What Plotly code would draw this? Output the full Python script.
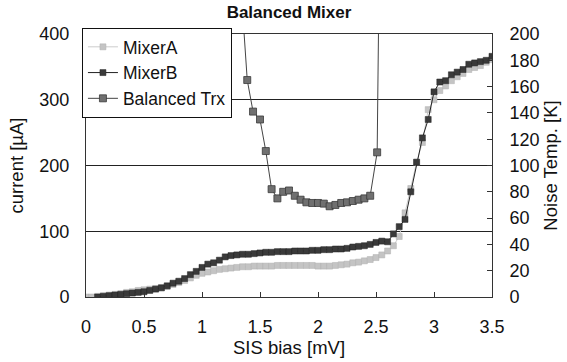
import plotly.graph_objects as go

# SIS bias voltage [mV] for the two single-mixer I-V curves
bias_a = [0.00, 0.05, 0.10, 0.15, 0.20, 0.25, 0.30, 0.35, 0.40, 0.45, 0.50, 0.55, 0.60, 0.65,
          0.70, 0.75, 0.80, 0.85, 0.90, 0.95, 1.00, 1.05, 1.10, 1.15, 1.20, 1.25, 1.30, 1.35,
          1.40, 1.45, 1.50, 1.55, 1.60, 1.65, 1.70, 1.75, 1.80, 1.85, 1.90, 1.95, 2.00, 2.05,
          2.10, 2.15, 2.20, 2.25, 2.30, 2.35, 2.40, 2.45, 2.50, 2.55, 2.60, 2.65, 2.70, 2.75,
          2.80, 2.85, 2.90, 2.95, 3.00, 3.05, 3.10, 3.15, 3.20, 3.25, 3.30, 3.35, 3.40, 3.45, 3.50]
current_a = [0, 0, 1, 2, 3, 4, 5, 7, 8, 10, 11, 12, 13, 14,
             16, 19, 22, 25, 29, 33, 36, 38, 40, 42, 43, 44, 45, 46,
             46, 47, 47, 47, 47, 48, 48, 48, 48, 48, 48, 48, 47, 47,
             47, 48, 49, 50, 52, 53, 55, 57, 60, 64, 70, 78, 92, 128,
             165, 205, 235, 285, 300, 314, 321, 329, 335, 340, 346, 349, 352, 357, 361]

bias_b = [0.10, 0.15, 0.20, 0.25, 0.30, 0.35, 0.40, 0.45, 0.50, 0.55, 0.60, 0.65,
          0.70, 0.75, 0.80, 0.85, 0.90, 0.95, 1.00, 1.05, 1.10, 1.15, 1.20, 1.25, 1.30, 1.35,
          1.40, 1.45, 1.50, 1.55, 1.60, 1.65, 1.70, 1.75, 1.80, 1.85, 1.90, 1.95, 2.00, 2.05,
          2.10, 2.15, 2.20, 2.25, 2.30, 2.35, 2.40, 2.45, 2.50, 2.55, 2.60, 2.65, 2.70, 2.75,
          2.80, 2.85, 2.90, 2.95, 3.00, 3.05, 3.10, 3.15, 3.20, 3.25, 3.30, 3.35, 3.40, 3.45, 3.50]
current_b = [0, 1, 2, 3, 4, 5, 6, 7, 8, 10, 12, 14,
             17, 21, 24, 28, 34, 39, 45, 50, 52, 56, 61, 63, 64, 65,
             65, 66, 67, 68, 68, 69, 69, 69, 70, 70, 70, 71, 71, 72,
             72, 73, 73, 74, 76, 77, 78, 80, 83, 85, 84, 96, 107, 118,
             160, 205, 242, 270, 312, 327, 329, 338, 342, 346, 354, 356, 358, 360, 366]

# Balanced receiver noise temperature [K]; the end points run off the top of the axis
bias_trx = [1.34, 1.39, 1.44, 1.50, 1.55, 1.60, 1.65, 1.70, 1.75, 1.80, 1.85, 1.90, 1.95,
            2.00, 2.05, 2.10, 2.15, 2.20, 2.25, 2.30, 2.35, 2.40, 2.45, 2.51, 2.525]
trx_k = [230, 165, 141, 135, 111, 82, 75, 80, 81, 77, 74, 72, 71.5,
         71.5, 71, 69, 70, 71.5, 72, 73, 74, 75, 77, 110, 230]

x_ticks = [0, 0.5, 1, 1.5, 2, 2.5, 3, 3.5]

FONT = "Liberation Sans, Arial, sans-serif"
INK = "#111111"
axis_title_font = dict(family=FONT, size=18.5, color=INK)

fig = go.Figure()

fig.add_trace(go.Scatter(
    x=bias_a, y=current_a, name="MixerA", mode="lines+markers",
    line=dict(color="#cccccc", width=1),
    marker=dict(symbol="square", size=6, color="#c4c4c4",
                line=dict(color="#b0b0b0", width=0.5)),
))
fig.add_trace(go.Scatter(
    x=bias_b, y=current_b, name="MixerB", mode="lines+markers",
    line=dict(color="#222222", width=1),
    marker=dict(symbol="square", size=6, color="#3a3a3a",
                line=dict(color="#222222", width=0.5)),
))
fig.add_trace(go.Scatter(
    x=bias_trx, y=trx_k, name="Balanced Trx", mode="lines+markers", yaxis="y2",
    line=dict(color="#444444", width=1),
    marker=dict(symbol="square", size=7, color="#707070",
                line=dict(color="#3a3a3a", width=0.8)),
))

fig.update_layout(
    width=567, height=362,
    margin=dict(l=86, r=75, t=34, b=65),
    paper_bgcolor="white", plot_bgcolor="white",
    font=dict(family=FONT, size=18, color=INK),
    title=dict(text="<b>Balanced Mixer</b>", font=dict(family=FONT, size=17, color=INK),
               x=0.5, xref="paper", xanchor="center",
               y=1 - 12 / 362, yref="container", yanchor="middle"),
    showlegend=True,
    legend=dict(x=-0.01, y=1.023, xref="paper", yref="paper",
                xanchor="left", yanchor="top",
                bgcolor="white", bordercolor=INK, borderwidth=1,
                font=dict(family=FONT, size=17.5, color=INK),
                itemwidth=30, tracegroupgap=0),
    xaxis=dict(
        range=[0, 3.5], tickvals=x_ticks,
        ticks="inside", ticklen=5, tickcolor="#333333",
        showline=True, linecolor="#333333", linewidth=1, mirror=True,
        showgrid=False, zeroline=False, ticklabelstandoff=13,
        title=dict(text="SIS bias [mV]", font=axis_title_font, standoff=3),
        automargin=False,
    ),
    yaxis=dict(
        range=[0, 400], dtick=100,
        showline=True, linecolor="#333333", linewidth=1,
        showgrid=True, gridcolor="#222222", gridwidth=1,
        zeroline=False, ticks="", ticklabelstandoff=12,
        title=dict(text="current [µA]", font=axis_title_font, standoff=10),
        automargin=False,
    ),
    yaxis2=dict(
        range=[0, 200], dtick=20, overlaying="y", side="right",
        showline=True, linecolor="#333333", linewidth=1,
        ticks="inside", ticklen=5, tickcolor="#333333",
        showgrid=False, zeroline=False, ticklabelstandoff=13,
        title=dict(text="Noise Temp. [K]", font=axis_title_font, standoff=4),
        automargin=False,
    ),
)

fig.write_html("out.html")
